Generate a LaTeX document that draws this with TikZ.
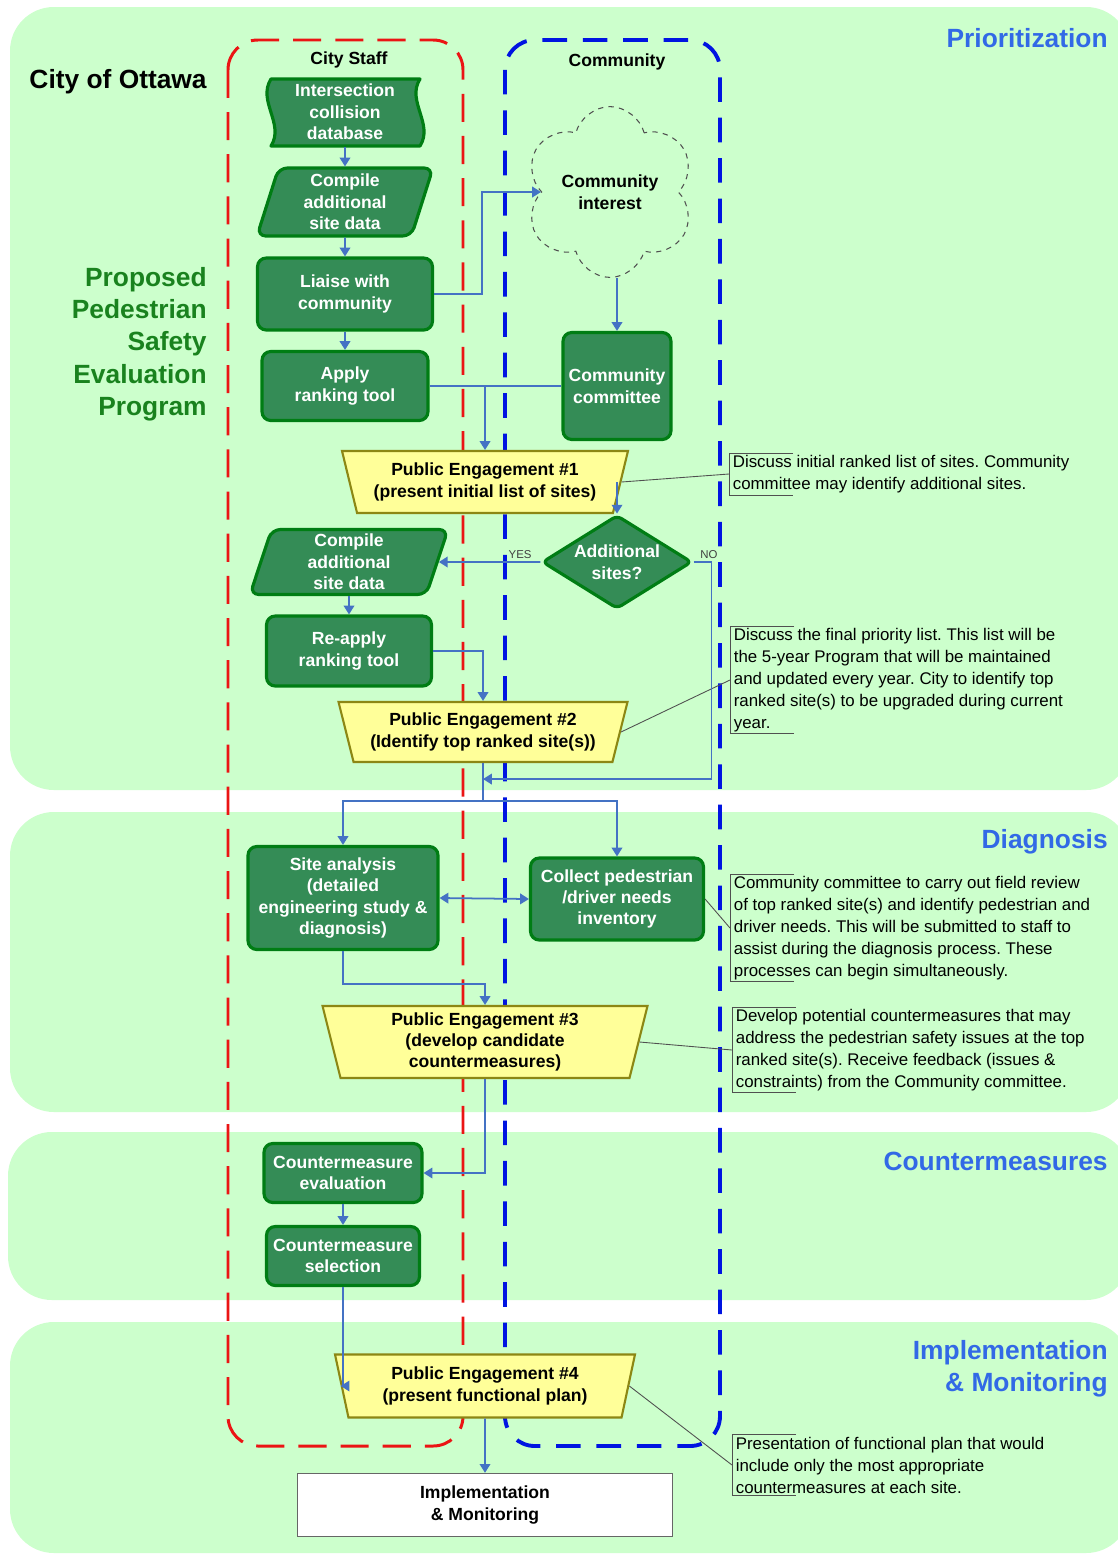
\documentclass[tikz,border=0pt]{standalone}
\usepackage{fontspec}
\setmainfont{Liberation Sans}
\frenchspacing
\usetikzlibrary{shapes,shapes.geometric,shapes.symbols,arrows.meta}
\definecolor{bandgreen}{RGB}{204,255,204}
\definecolor{boxgreen}{RGB}{52,140,86}
\definecolor{edgegreen}{RGB}{0,125,20}
\definecolor{peyellow}{RGB}{255,255,153}
\definecolor{peedge}{RGB}{140,135,20}
\definecolor{flowblue}{RGB}{68,114,196}
\definecolor{lanered}{RGB}{235,20,20}
\definecolor{laneblue}{RGB}{0,20,225}
\definecolor{titleblue}{RGB}{50,105,230}
\definecolor{titlegreen}{RGB}{25,130,30}
\definecolor{notegray}{RGB}{80,80,80}

\begin{document}
\begin{tikzpicture}[x=0.02cm, y=-0.02cm, >={Triangle[length=5pt,width=6pt]},
        every node/.append style={font=\fontsize{10}{12.2}\selectfont\bfseries}]
      \tikzstyle{proc} = [rectangle, rounded corners=5pt, draw=edgegreen, line width=1.8pt, fill=boxgreen, text=white, align=center, inner sep=1pt]
      \tikzstyle{data} = [proc, trapezium, trapezium left angle=70, trapezium right angle=110, trapezium stretches body]
      \tikzstyle{decide} = [proc, diamond, aspect=1.6, rounded corners=3pt]
      \tikzstyle{engage} = [trapezium, trapezium left angle=110, trapezium right angle=110, trapezium stretches body, draw=peedge, line width=1.2pt, fill=peyellow, align=center, inner sep=1pt]
      \tikzstyle{note} = [anchor=west, align=left, inner xsep=2pt, inner ysep=1pt, font=\fontsize{9.6}{12.5}\selectfont]
      \tikzstyle{phase} = [anchor=east, align=right, inner sep=0pt, text=titleblue, font=\fontsize{15}{18.2}\selectfont\bfseries]
      \tikzstyle{flow} = [->, draw=flowblue, line width=1pt]
      \tikzstyle{link} = [draw=flowblue, line width=1pt]
      \tikzstyle{callout} = [draw=notegray, line width=0.5pt]
      \tikzstyle{yesno} = [font=\fontsize{6.5}{7}\selectfont, text=black!75, inner sep=1.5pt]

      \useasboundingbox (0,0) rectangle (1118,1556);
      \fill[white] (0,0) rectangle (1118,1556);
      % phase bands
      \fill[bandgreen, rounded corners=25pt] (10,7) rectangle (1130,790);
      \fill[bandgreen, rounded corners=25pt] (10,812) rectangle (1130,1112);
      \fill[bandgreen, rounded corners=25pt] (8,1132) rectangle (1130,1300);
      \fill[bandgreen, rounded corners=25pt] (10,1322) rectangle (1130,1553);
      % swimlanes
      \draw[lanered, line width=1.7pt, dash pattern=on 16pt off 8pt, rounded corners=17pt] (228,40) rectangle (463,1446);
      \draw[laneblue, line width=2.2pt, dash pattern=on 14pt off 9pt, rounded corners=17pt] (505,40) rectangle (720,1446);

      \node (ottawa) [anchor=east, inner sep=0pt, font=\fontsize{15}{18}\selectfont\bfseries] at (207,82) {City of Ottawa};
      \node (program) [anchor=east, align=right, inner sep=0pt, text=titlegreen, font=\fontsize{15}{18.4}\selectfont\bfseries] at (207,344) {Proposed\\Pedestrian\\Safety\\Evaluation\\Program};
      \node (prio) [phase] at (1108,38) {Prioritization};
      \node (diag) [phase] at (1108,842) {Diagnosis};
      \node (cms) [phase] at (1108,1161) {Countermeasures};
      \node (impmon) [phase] at (1108,1369) {Implementation\\\& Monitoring};
      \node (staff) at (349,60) {City Staff};
      \node (community) at (617,62) {Community};

      % prioritization
      \filldraw[draw=edgegreen, fill=boxgreen, line width=1.8pt, line join=round] (271,79) .. controls (257,101) and (285,124) .. (271,146) -- (420,146) .. controls (434,124) and (406,101) .. (420,79) -- cycle;
      \node (db) [proc, draw=none, fill=none, minimum width=3cm, minimum height=1.34cm] at (345,112) {Intersection\\collision\\database};
      \node (comp1) [data, minimum width=3.52cm, minimum height=1.36cm] at (345,202) {Compile\\additional\\site data};
      \node (liaise) [proc, minimum width=3.5cm, minimum height=1.44cm] at (345,294) {Liaise with\\community};
      \node (apply) [proc, minimum width=3.32cm, minimum height=1.38cm] at (345,386) {Apply\\ranking tool};
      \node (cloud) [cloud, cloud puffs=6, aspect=1, draw=notegray, dashed, line width=0.6pt, inner sep=0pt, minimum width=2cm, minimum height=2.3cm, align=center] at (610,192) {Community\\interest};
      \node (comm) [proc, minimum width=2.16cm, minimum height=2.14cm] at (617,386) {Community\\committee};
      \node (pe1) [engage, minimum width=5.72cm, minimum height=1.24cm] at (485,482) {Public Engagement \#1\\(present initial list of sites)};
      \node (dia) [decide, minimum width=2.92cm, minimum height=1.84cm] at (617,562) {Additional\\sites?};
      \node (comp2) [data, minimum width=3.96cm, minimum height=1.3cm] at (349,562) {Compile\\additional\\site data};
      \node (reapply) [proc, minimum width=3.3cm, minimum height=1.4cm] at (349,651) {Re-apply\\ranking tool};
      \node (pe2) [engage, minimum width=5.78cm, minimum height=1.2cm] at (483,732) {Public Engagement \#2\\(Identify top ranked site(s))};
      % diagnosis
      \node (site) [proc, minimum width=3.8cm, minimum height=2.06cm] at (343,898) {Site analysis\\(detailed\\engineering study \&\\diagnosis)};
      \node (collect) [proc, minimum width=3.46cm, minimum height=1.64cm] at (617,899) {Collect pedestrian\\/driver needs\\inventory};
      \node (pe3) [engage, trapezium left angle=106, trapezium right angle=106, minimum width=6.5cm, minimum height=1.44cm] at (485,1042) {Public Engagement \#3\\(develop candidate\\countermeasures)};
      % countermeasures
      \node (eval) [proc, minimum width=3.16cm, minimum height=1.18cm] at (343,1173) {Countermeasure\\evaluation};
      \node (select) [proc, minimum width=3.06cm, minimum height=1.18cm] at (343,1256) {Countermeasure\\selection};
      % implementation
      \node (pe4) [engage, trapezium left angle=108, trapezium right angle=108, minimum width=6cm, minimum height=1.26cm] at (485,1386) {Public Engagement \#4\\(present functional plan)};
      \node (impl) [rectangle, draw=black!60, line width=0.8pt, fill=white, align=center, minimum width=7.5cm, minimum height=1.26cm] at (485,1505) {Implementation\\\& Monitoring};

      % notes
      \node (n1) [note] at (729,474) {Discuss initial ranked list of sites. Community\\committee may identify additional sites.};
      \node (n2) [note] at (730,680) {Discuss the final priority list. This list will be\\the 5-year Program that will be maintained\\and updated every year. City to identify top\\ranked site(s) to be upgraded during current\\year.};
      \node (n3) [note] at (730,928) {Community committee to carry out field review\\of top ranked site(s) and identify pedestrian and\\driver needs. This will be submitted to staff to\\assist during the diagnosis process. These\\processes can begin simultaneously.};
      \node (n4) [note] at (732,1050) {Develop potential countermeasures that may\\address the pedestrian safety issues at the top\\ranked site(s). Receive feedback (issues \&\\constraints) from the Community committee.};
      \node (n5) [note] at (732,1465) {Presentation of functional plan that would\\include only the most appropriate\\countermeasures at each site.};
      \foreach \n in {n1,n2,n3,n4,n5}
        \draw[callout] (\n.north west) ++(64,0) -- (\n.north west) -- (\n.south west) -- ++(64,0);
      \draw[callout] (pe1.east) -- (n1.west);
      \draw[callout] (pe2.east) -- (n2.west);
      \draw[callout] (collect.east) -- (n3.west);
      \draw[callout] (pe3.east) -- (n4.west);
      \draw[callout] (pe4.east) -- (n5.west);

      % flow
      \path (pe2.south) ++(0,16) coordinate (merge) ++(0,22) coordinate (split);
      \draw[flow] (db.south) -- (comp1.north);
      \draw[flow] (comp1.south) -- (liaise.north);
      \draw[flow] (liaise.south) -- (apply.north);
      \draw[flow] (liaise.east) -- ++(48,0) |- (cloud.west);
      \draw[flow] (cloud.south -| comm.north) -- (comm.north);
      \draw[link] (apply.east) -- (comm.west);
      \draw[flow] (apply.east -| pe1.north) -- (pe1.north);
      \draw[flow] (pe1.east -| dia.north) -- (dia.north);
      \draw[flow] (dia.west) -- node[above, pos=0.2, yesno] {YES} (comp2.east);
      \draw[flow] (dia.east) -- ++(18,0) node[above, pos=0.85, yesno] {NO} |- (merge);
      \draw[flow] (comp2.south) -- (reapply.north);
      \draw[flow] (reapply.east) -| (pe2.north);
      \draw[link] (pe2.south) -- (split);
      \draw[flow] (split) -| (site.north);
      \draw[flow] (split) -| (collect.north);
      \draw[flow, <->] (site.east) -- (collect.west);
      \draw[flow] (site.south) -- ++(0,33) -| (pe3.north);
      \draw[flow] (pe3.south) |- (eval.east);
      \draw[flow] (eval.south) -- (select.north);
      \draw[flow] (select.south) |- (pe4.west);
      \draw[flow] (pe4.south) -- (impl.north);
    \end{tikzpicture}
\end{document}
